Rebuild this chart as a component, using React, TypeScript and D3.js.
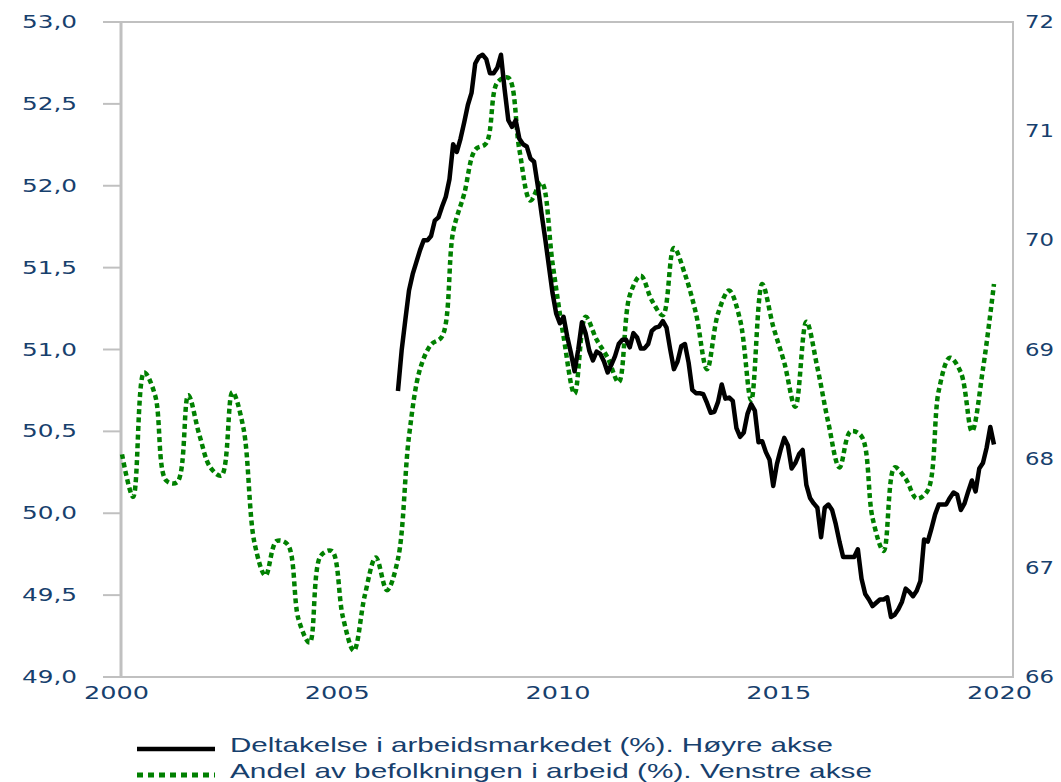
import React from 'react';
import * as d3 from 'd3';

const W = 1061;
const H = 782;
const frame = { left: 121, right: 1013, top: 22, bottom: 677 };

const xTickYears = [2000, 2005, 2010, 2015, 2020];
const leftTicks = [49, 49.5, 50, 50.5, 51, 51.5, 52, 52.5, 53];
const rightTicks = [66, 67, 68, 69, 70, 71, 72];

// Andel av befolkningen i arbeid (%), quarterly from 2000Q1 - left axis
const andelStartYear = 2000;
const andel = [
  50.36, 50.10, 50.86, 50.72,
  50.20, 50.19, 50.72, 50.48,
  50.28, 50.23, 50.74, 50.52,
  49.82, 49.62, 49.83, 49.81,
  49.35, 49.21, 49.74, 49.77,
  49.37, 49.16, 49.50, 49.73,
  49.53, 49.72, 50.47, 50.88,
  51.03, 51.08, 51.72, 51.95,
  52.22, 52.26, 52.63, 52.66,
  52.22, 51.91, 52.02, 51.53,
  51.08, 50.73, 51.20, 51.06,
  50.95, 50.80, 51.33, 51.45,
  51.30, 51.21, 51.62, 51.46,
  51.22, 50.88, 51.22, 51.36,
  51.18, 50.69, 51.40, 51.14,
  50.92, 50.65, 51.17, 50.89,
  50.55, 50.28, 50.50, 50.47,
  49.97, 49.77, 50.28, 50.21,
  50.09, 50.14, 50.75, 50.95,
  50.86, 50.50, 50.88, 51.40,
];

// Deltakelse i arbeidsmarkedet (%), monthly from May 2006 - right axis
const deltakelseStartYear = 2006;
const deltakelseStartMonth = 5;
const deltakelse = [
  68.62, 68.99, 69.27, 69.54, 69.69, 69.80, 69.91, 70.00,
  70.00, 70.04, 70.18, 70.21, 70.31, 70.40, 70.56, 70.88, 70.81, 70.93, 71.08, 71.24,
  71.35, 71.62, 71.68, 71.70, 71.66, 71.53, 71.53, 71.58, 71.70, 71.38, 71.10, 71.04,
  71.10, 70.93, 70.88, 70.86, 70.75, 70.72, 70.50, 70.25, 70.02, 69.77, 69.52, 69.33,
  69.24, 69.30, 69.12, 68.97, 68.80, 69.00, 69.25, 69.15, 68.99, 68.90, 68.98, 68.96,
  68.89, 68.79, 68.86, 68.94, 69.05, 69.09, 69.09, 69.02, 69.15, 69.11, 69.01, 69.01,
  69.05, 69.17, 69.20, 69.21, 69.26, 69.20, 69.00, 68.82, 68.89, 69.03, 69.05, 68.88,
  68.63, 68.60, 68.60, 68.59, 68.51, 68.42, 68.43, 68.52, 68.68, 68.55, 68.56, 68.53,
  68.28, 68.20, 68.24, 68.41, 68.50, 68.44, 68.15, 68.16, 68.06, 67.99, 67.75, 67.95,
  68.08, 68.19, 68.12, 67.91, 67.96, 68.04, 68.08, 67.76, 67.64, 67.59, 67.55, 67.28,
  67.55, 67.58, 67.53, 67.40, 67.24, 67.10, 67.10, 67.10, 67.10, 67.17, 66.90, 66.76,
  66.71, 66.65, 66.68, 66.71, 66.71, 66.73, 66.55, 66.57, 66.62, 66.69, 66.81, 66.78,
  66.74, 66.79, 66.88, 67.26, 67.24, 67.36, 67.49, 67.58, 67.58, 67.58, 67.64, 67.69,
  67.67, 67.53, 67.59, 67.70, 67.80, 67.70, 67.91, 67.96, 68.10, 68.29, 68.13,
];

const legendLabels = [
  'Deltakelse i arbeidsmarkedet (%). Høyre akse',
  'Andel av befolkningen i arbeid (%). Venstre akse',
];

const textColor = '#17406d';
const gridColor = '#c0c0c0';
const green = '#008000';

export default function App() {
  const x = d3.scaleLinear().domain([2000, 2020]).range([116.5, 999.5]);
  const yLeft = d3.scaleLinear().domain([49, 53]).range([frame.bottom, frame.top]);
  const yRight = d3.scaleLinear().domain([66, 72]).range([frame.bottom, frame.top]);

  const andelPts: [number, number][] = andel.map((v, i) => [andelStartYear + i / 4 + 0.125, v]);
  const deltPts: [number, number][] = deltakelse.map((v, i) => [
    deltakelseStartYear + (deltakelseStartMonth - 1 + i + 0.5) / 12,
    v,
  ]);

  const andelLine = d3
    .line<[number, number]>()
    .x(d => x(d[0]))
    .y(d => yLeft(d[1]))
    .curve(d3.curveCatmullRom.alpha(0.5));

  const deltLine = d3
    .line<[number, number]>()
    .x(d => x(d[0]))
    .y(d => yRight(d[1]));

  const fmtLeft = (v: number) => d3.format('.1f')(v).replace('.', ',');

  return (
    <svg
      width={W}
      height={H}
      style={{ position: 'absolute', left: 0, top: 0, background: '#fff' }}
    >
      {/* plot frame */}
      <rect
        x={frame.left}
        y={frame.top}
        width={frame.right - frame.left}
        height={frame.bottom - frame.top}
        fill="none"
        stroke={gridColor}
        strokeWidth={2}
      />
      <line x1={frame.left} x2={frame.left} y1={frame.top} y2={frame.bottom} stroke={gridColor} strokeWidth={3} />

      {/* left axis */}
      {leftTicks.map(t => (
        <g key={'l' + t}>
          <line x1={103} x2={frame.left} y1={yLeft(t)} y2={yLeft(t)} stroke={gridColor} strokeWidth={2} />
          <text
            x={77}
            y={yLeft(t)}
            dy="0.36em"
            textAnchor="end"
            fontFamily="'DejaVu Sans', Verdana, sans-serif"
            fontSize={17}
            fill={textColor}
            textLength={55}
            lengthAdjust="spacingAndGlyphs"
          >
            {fmtLeft(t)}
          </text>
        </g>
      ))}

      {/* right axis */}
      {rightTicks.map(t => (
        <text
          key={'r' + t}
          x={1025}
          y={yRight(t)}
          dy="0.36em"
          fontFamily="'DejaVu Sans', Verdana, sans-serif"
          fontSize={17}
          fill={textColor}
          textLength={29}
          lengthAdjust="spacingAndGlyphs"
        >
          {t}
        </text>
      ))}

      {/* x axis */}
      {xTickYears.map(yr => (
        <text
          key={'x' + yr}
          x={x(yr)}
          y={699}
          textAnchor="middle"
          fontFamily="'DejaVu Sans', Verdana, sans-serif"
          fontSize={17}
          fill={textColor}
          textLength={65}
          lengthAdjust="spacingAndGlyphs"
        >
          {yr}
        </text>
      ))}

      {/* series */}
      <path
        d={andelLine(andelPts) || ''}
        fill="none"
        stroke={green}
        strokeWidth={4.5}
        strokeDasharray="5,3.5"
      />
      <path
        d={deltLine(deltPts) || ''}
        fill="none"
        stroke="#000"
        strokeWidth={4.5}
        strokeLinejoin="round"
      />

      {/* legend */}
      <line x1={137} x2={215} y1={749} y2={749} stroke="#000" strokeWidth={4.5} />
      <line x1={137} x2={215} y1={775} y2={775} stroke={green} strokeWidth={5} strokeDasharray="6,5" />
      {legendLabels.map((lab, i) => (
        <text
          key={lab}
          x={230}
          y={752 + i * 26}
          fontFamily="'Liberation Sans Narrow', 'Liberation Sans', Arial, sans-serif"
          fontSize={21}
          fill={textColor}
          textLength={i === 0 ? 603 : 642}
          lengthAdjust="spacingAndGlyphs"
        >
          {lab}
        </text>
      ))}
    </svg>
  );
}
